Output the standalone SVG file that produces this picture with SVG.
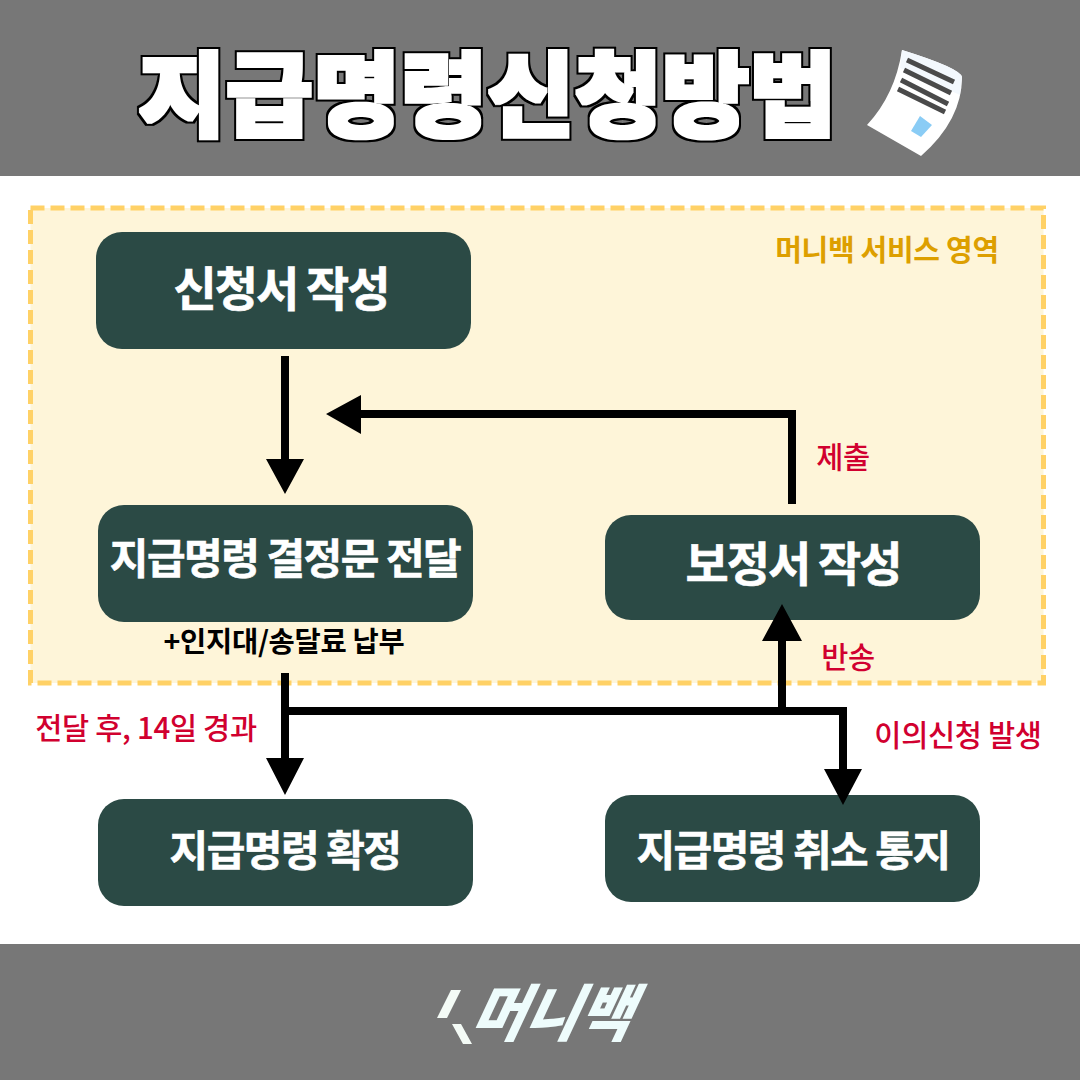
<svg xmlns="http://www.w3.org/2000/svg" width="1080" height="1080" viewBox="0 0 1080 1080">
<style>
text{font-family:"Noto Sans CJK KR","Noto Sans",sans-serif}
.box{fill:#2b4a45}
.t{fill:#fff;stroke:#fff;stroke-width:.6px;font-size:47px;font-weight:700;text-anchor:middle;letter-spacing:-2px}
.r{fill:#d1002f;font-size:29.500px;font-weight:500;text-anchor:middle;letter-spacing:-.3px}
.ln{stroke:#000;stroke-width:8;fill:none}
</style>
<defs>
<filter id="fat" x="-5%" y="-20%" width="110%" height="140%" color-interpolation-filters="sRGB">
<feMorphology in="SourceAlpha" operator="dilate" radius="2" result="w"/>
<feMorphology in="SourceAlpha" operator="dilate" radius="4" result="b"/>
<feFlood flood-color="#fff"/><feComposite in2="w" operator="in" result="white"/>
<feMerge><feMergeNode in="b"/><feMergeNode in="white"/></feMerge>
</filter>
</defs>
<rect width="1080" height="1080" fill="#fff"/>
<rect width="1080" height="176" fill="#777"/>
<rect y="944" width="1080" height="136" fill="#777"/>
<g id="title"><text x="487.500" y="129" text-anchor="middle" font-size="92" font-weight="900" fill="#fff" filter="url(#fat)" textLength="698" lengthAdjust="spacingAndGlyphs">지급명령신청방법</text></g>
<g id="doc-icon">
<path d="M902 50Q960 68 962 77Q962 120 921 156L867 125Q895 95 902 50Z" fill="#fff"/>
<path d="M902 50Q960 68 962 77L960 95L900 68Z" fill="#f3f8fd"/>
<path d="M907 60L954 82M904 70L951 93M901 80L948 104M898 89L945 112" stroke="#4a4a4a" stroke-width="5" fill="none"/>
<path d="M920 116L932 125L921 137L911 131Z" fill="#8accf5"/>
</g>
<g id="service-area"><rect x="30.500" y="208" width="1013" height="475" fill="#fef5d9" stroke="#ffd166" stroke-width="5" stroke-dasharray="14 6"/>
<text x="887" y="261" text-anchor="middle" font-size="29" font-weight="700" fill="#dd9f00" letter-spacing="-.3">머니백 서비스 영역</text></g>
<g id="n1"><rect class="box" x="96" y="232" width="375" height="117" rx="26"/><text class="t" x="281" y="306">신청서 작성</text></g>
<g id="n2"><rect class="box" x="98" y="505" width="375" height="117" rx="26"/><text class="t" x="285" y="574" style="font-size:42px;letter-spacing:-1.500px">지급명령 결정문 전달</text>
<text x="284" y="652" text-anchor="middle" font-size="28.500" font-weight="700" fill="#000" letter-spacing="-.3">+인지대/송달료 납부</text></g>
<g id="n3"><rect class="box" x="605" y="515" width="375" height="105" rx="26"/><text class="t" x="793" y="581">보정서 작성</text></g>
<g id="n4"><rect class="box" x="98" y="799" width="375" height="107" rx="26"/><text class="t" x="285" y="866" style="font-size:42px;letter-spacing:-1.500px">지급명령 확정</text></g>
<g id="n5"><rect class="box" x="605" y="795" width="375" height="107" rx="26"/><text class="t" x="793" y="866" style="font-size:42px;letter-spacing:-1.500px">지급명령 취소 통지</text></g>
<g id="connectors">
<path class="ln" d="M285 356V462M792 504V414H355M285 673V762M289 711H843V773M782 711V640"/>
<path d="M266 459H304L285 494ZM326 414L361 395V434ZM266 758H304L285 795ZM824 769H862L843 805ZM762 641L782 604L802 641Z"/>
</g>
<g id="labels">
<text class="r" x="843" y="468" font-weight="700">제출</text>
<text class="r" x="848" y="668">반송</text>
<text class="r" x="146" y="739">전달 후, 14일 경과</text>
<text class="r" x="958" y="746">이의신청 발생</text>
</g>
<g id="logo">
<path d="M451 990H461L447 1018H437ZM452 1024H461L472 1044H463Z" fill="#f4fbf6"/>
<text transform="translate(468 1036) skewX(-25)" font-size="62" font-weight="900" fill="#eefcfc" textLength="160" lengthAdjust="spacingAndGlyphs">머니백</text>
</g>
</svg>
